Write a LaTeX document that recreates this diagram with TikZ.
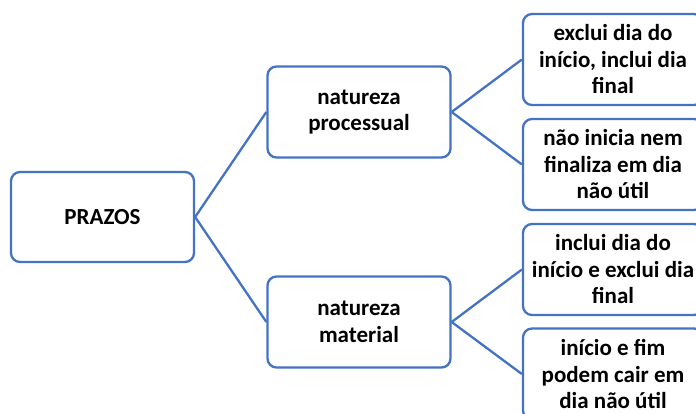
\documentclass[tikz,border=0pt]{standalone}
\usepackage{fontspec}
\setmainfont{Carlito}
\newfontfamily\boxfont{Carlito Bold}
\definecolor{officeblue}{HTML}{4472C4}
\begin{document}
\begin{tikzpicture}[x=1pt,y=-1pt,
  box/.style={draw=officeblue, line width=2.3pt, rounded corners=9pt, fill=white,
    minimum width=183pt, minimum height=91pt, align=center, inner sep=2pt,
    font=\boxfont\fontsize{23}{26.5}\selectfont},
  leaf/.style={box, minimum width=180pt},
  link/.style={draw=officeblue, line width=2.3pt}]
  \useasboundingbox (0,0) rectangle (696,414);
  % root and the two branches
  \node[box, minimum height=90pt] (prazos) at (102.5,217) {PRAZOS};
  \node[box] (proc) at (359,112) {natureza\\processual};
  \node[box] (mat) at (359,322) {natureza\\material};
  % leaves
  \node[leaf] (r1) at (613,59.5) {exclui dia do\\início, inclui dia\\final};
  \node[leaf] (r2) at (613,164.5) {não inicia nem\\finaliza em dia\\não útil};
  \node[leaf] (r3) at (613,269.5) {inclui dia do\\início e exclui dia\\final};
  \node[leaf] (r4) at (613,374) {início e fim\\podem cair em\\dia não útil};
  % connectors
  \draw[link] (prazos.east) -- (proc.west);
  \draw[link] (prazos.east) -- (mat.west);
  \draw[link] (proc.east) -- (r1.west);
  \draw[link] (proc.east) -- (r2.west);
  \draw[link] (mat.east) -- (r3.west);
  \draw[link] (mat.east) -- (r4.west);
\end{tikzpicture}
\end{document}
